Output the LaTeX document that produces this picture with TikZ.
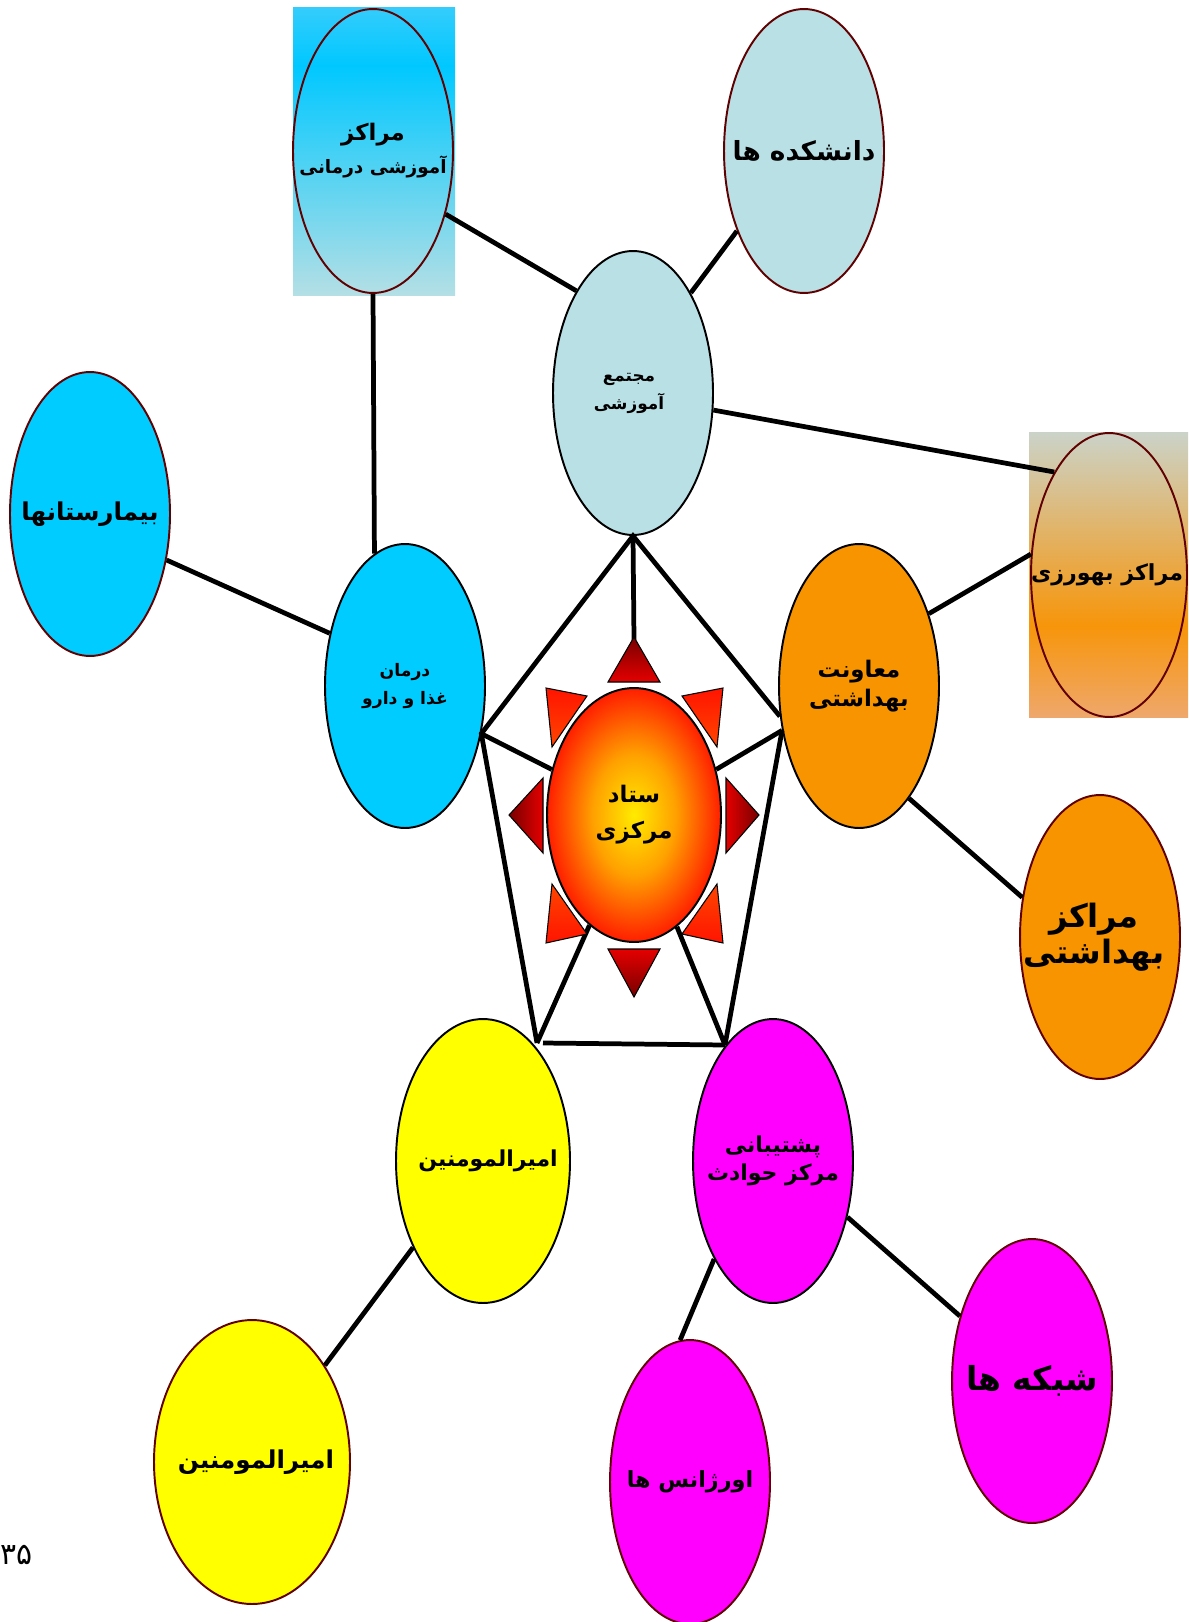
\documentclass[tikz,border=0pt]{standalone}
\usepackage{fontspec}
\newfontfamily\arabicfont[Script=Arabic]{DejaVu Sans}
\TeXXeTstate=1
\usetikzlibrary{shapes.geometric}

\definecolor{skyblue}{RGB}{0,204,255}
\definecolor{paleblue}{RGB}{185,224,229}
\definecolor{deeporange}{RGB}{247,148,0}
\definecolor{brightyellow}{RGB}{255,255,0}
\definecolor{brightmagenta}{RGB}{255,0,255}
\definecolor{rimred}{RGB}{96,0,0}
\definecolor{raydark}{RGB}{120,0,0}
\definecolor{rayred}{RGB}{228,0,0}
\definecolor{rayorange}{RGB}{255,70,0}
\definecolor{rayscarlet}{RGB}{255,20,0}
% box shadings
\definecolor{maTop}{RGB}{52,204,252}
\definecolor{maMid}{RGB}{0,200,255}
\definecolor{maBot}{RGB}{180,223,229}
\definecolor{bhTop}{RGB}{203,211,201}
\definecolor{bhMid}{RGB}{247,149,10}
\definecolor{bhBot}{RGB}{239,168,108}
\definecolor{stIn}{RGB}{255,235,0}
\definecolor{stMid}{RGB}{255,160,0}
\definecolor{stOut}{RGB}{255,30,0}

\pgfdeclareverticalshading{maShade}{100bp}{color(0bp)=(maBot); color(25bp)=(maBot); color(65bp)=(maMid); color(75bp)=(maTop); color(100bp)=(maTop)}
\pgfdeclareverticalshading{bhShade}{100bp}{color(0bp)=(bhBot); color(25bp)=(bhBot); color(41bp)=(bhMid); color(75bp)=(bhTop); color(100bp)=(bhTop)}
\pgfdeclareradialshading{stShade}{\pgfpoint{0bp}{0bp}}{color(0bp)=(stIn); color(12bp)=(stMid); color(25bp)=(stOut); color(50bp)=(stOut)}

\newcommand{\fa}[1]{\beginR #1\endR}
\newcommand{\fsz}[2]{\arabicfont\bfseries\fontsize{#1}{#2}\selectfont}

\tikzset{
  bubble/.style={ellipse, inner sep=0pt, minimum width=3.2cm, minimum height=5.68cm,
    line width=1.1pt},
  caption/.style={align=center, inner sep=0pt},
  link/.style={line width=2.7pt},
  ray/.style={draw=black, line width=0.6pt}
}

\begin{document}
\begin{tikzpicture}[x=0.02cm, y=-0.02cm]
\useasboundingbox (0,0) rectangle (1188,1622);

% shaded boxes behind two bubbles
\shade[shading=maShade] (293,8) rectangle (455,295);
\shade[shading=bhShade] (1029,432) rectangle (1188,717);

\coordinate (rayN) at (634,640);
\coordinate (pbl) at (537,1043);
\coordinate (pbr) at (725,1045);

% bubbles
\node[bubble, draw=rimred] (amuzesh) at (373,151) {};
\node[bubble, draw=rimred, fill=paleblue] (daneshkade) at (804,151) {};
\node[bubble, draw=black, fill=paleblue] (mojtama) at (633,393) {};
\node[bubble, draw=rimred, fill=skyblue] (bimarestan) at (90,514) {};
\node[bubble, draw=black, fill=skyblue] (darman) at (405,686) {};
\node[bubble, draw=rimred, minimum width=3.12cm] (behvarzi) at (1109,575) {};
\node[bubble, draw=black, fill=deeporange] (moavenat) at (859,686) {};
\node[bubble, draw=black, shade, shading=stShade, minimum width=3.48cm, minimum height=5.08cm] (setad) at (634,815) {};
\node[bubble, draw=rimred, fill=deeporange] (behdasht) at (1100,937) {};
\node[bubble, draw=black, fill=brightyellow, minimum width=3.48cm] (amir) at (483,1161) {};
\node[bubble, draw=black, fill=brightmagenta] (poshtibani) at (773,1161) {};
\node[bubble, draw=rimred, fill=brightyellow, minimum width=3.92cm] (amirB) at (252,1462) {};
\node[bubble, draw=rimred, fill=brightmagenta] (urgence) at (690,1482) {};
\node[bubble, draw=rimred, fill=brightmagenta] (shabake) at (1032,1381) {};

% texts
\node[caption, font=\fsz{13}{18.7}] (amuzeshT) at (amuzesh) {\fa{مراکز}\\{\fontsize{10.5}{18.7}\selectfont\fa{آموزشی درمانی}}};
\node[caption, font=\fsz{15}{18}] (daneshkadeT) at (daneshkade) {\fa{دانشکده ها}};
\node[caption, font=\fsz{9.6}{16}] (mojtamaT) at ([xshift=-0.08cm]mojtama) {\fa{مجتمع}\\\fa{آموزشی}};
\node[caption, font=\fsz{14}{18}] (bimarestanT) at (bimarestan) {\fa{بیمارستانها}};
\node[caption, font=\fsz{9.8}{16}] (darmanT) at (darman) {\fa{درمان}\\\fa{غذا و دارو}};
\node[caption, font=\fsz{12.6}{18}] (behvarziT) at ([xshift=-0.04cm]behvarzi) {\fa{مراکز بهورزی}};
\node[caption, font=\fsz{13}{16.5}] (moavenatT) at (moavenat) {\fa{معاونت}\\\fa{بهداشتی}};
\node[caption, font=\fsz{13}{20.5}] (setadT) at (setad) {\fa{ستاد}\\\fa{مرکزی}};
\node[caption, font=\fsz{18.3}{20.5}] (behdashtT) at ([xshift=-0.12cm]behdasht) {\fa{مراکز}\\\fa{بهداشتی}};
\node[caption, font=\fsz{12.5}{16}] (amirT) at ([xshift=0.1cm]amir) {\fa{امیرالمومنین}};
\node[caption, font=\fsz{12.5}{16}] (poshtibaniT) at (poshtibani) {\fa{پشتیبانی}\\\fa{مرکز حوادث}};
\node[caption, font=\fsz{14}{16}] (amirBT) at ([xshift=0.08cm]amirB) {\fa{امیرالمومنین}};
\node[caption, font=\fsz{12.7}{16}] (urgenceT) at (urgence) {\fa{اورژانس ها}};
\node[caption, font=\fsz{18.8}{20}] (shabakeT) at (shabake) {\fa{شبکه ها}};

% connectors
\draw[link] (amuzesh.-41) -- (mojtama.119);
\draw[link] (daneshkade.230) -- (mojtama.60);
\draw[link] (amuzesh.-90) -- (darman.103);
\draw[link] (mojtama.-12) -- (behvarzi.118);
\draw[link] (bimarestan.-31) -- (darman.145);
\draw[link] (behvarzi.165) -- (moavenat.46);
\draw[link] (moavenat.-66) -- (behdasht.153);
\draw[link] (mojtama.-90) -- (rayN);
% pentagon round the center
\draw[link] (moavenat.201) -- (mojtama.-90) -- (darman.-32) -- (pbl);
\draw[link] (moavenat.210) -- (pbr);
\draw[link] ([xshift=0.12cm]pbl) -- (pbr);
\draw[link] (darman.-32) -- (setad.151);
\draw[link] (moavenat.210) -- (setad.29);
\draw[link] (setad.248) -- (pbl);
\draw[link] (setad.-69) -- (pbr);
\draw[link] (amir.231) -- (amirB.53);
\draw[link] (poshtibani.239) -- (urgence.94);
\draw[link] (poshtibani.-37) -- (shabake.138);

% rays round the center
\shade[ray, top color=raydark, bottom color=rayred] (634,637) -- (660,682) -- (608,682) -- cycle;
\shade[ray, top color=rayred, bottom color=raydark] (634,997) -- (660,949) -- (608,949) -- cycle;
\shade[ray, left color=raydark, right color=rayred] (509,815) -- (543,778) -- (543,853) -- cycle;
\shade[ray, left color=rayred, right color=raydark] (759,815) -- (726,778) -- (726,853) -- cycle;
\shade[ray, top color=rayscarlet, bottom color=rayorange] (546,688) -- (587,696) -- (552,747) -- cycle;
\shade[ray, top color=rayscarlet, bottom color=rayorange] (723,688) -- (682,696) -- (717,747) -- cycle;
\shade[ray, top color=rayorange, bottom color=rayscarlet] (546,943) -- (587,934) -- (552,884) -- cycle;
\shade[ray, top color=rayorange, bottom color=rayscarlet] (723,943) -- (682,934) -- (717,884) -- cycle;

% page number
\node[font=\arabicfont\fontsize{17}{20}\selectfont] (pagenum) at (17,1555) {۳۵};
\end{tikzpicture}
\end{document}
